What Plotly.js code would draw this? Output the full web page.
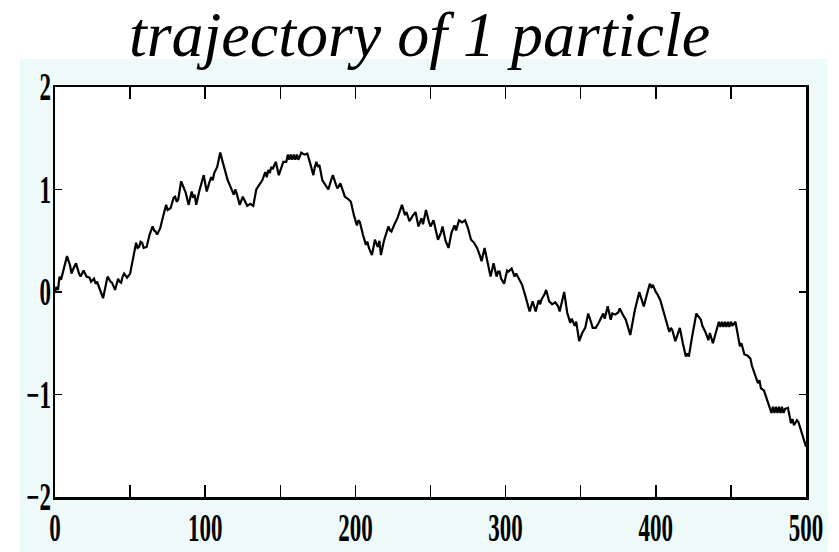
<!DOCTYPE html>
<html>
<head>
<meta charset="utf-8">
<script src="https://cdn.plot.ly/plotly-3.0.1.min.js"></script>
<style>
  html, body { margin: 0; padding: 0; background: #ffffff; }
  #chart { width: 839px; height: 552px; }
</style>
</head>
<body>
<div id="chart"></div>
<script>
// Position of a single particle against time step (random walk)
const steps = [
  0, 1, 2, 3, 4, 6, 8, 10, 11, 12, 14, 16, 17, 19, 21, 23, 24, 26, 27, 28,
  30, 32, 34, 35, 37, 38, 40, 42, 43, 44, 45, 46, 48, 50, 52, 54, 55, 56, 57, 58,
  59, 61, 63, 65, 66, 67, 68, 70, 72, 74, 75, 77, 79, 80, 81, 82, 84, 86, 87, 89,
  91, 92, 93, 94, 96, 99, 101, 103, 104, 105, 106, 108, 110, 112, 113, 115, 117, 119, 120, 121,
  123, 125, 126, 128, 130, 132, 134, 136, 138, 139, 140, 141, 142, 143, 144, 145, 147, 149, 151, 152,
  154, 155, 156, 157, 158, 159, 160, 161, 162, 163, 164, 166, 168, 170, 172, 173, 174, 175, 176, 178,
  180, 182, 184, 185, 187, 188, 190, 192, 193, 195, 197, 199, 201, 202, 203, 205, 207, 208, 209, 211,
  213, 214, 215, 216, 217, 219, 222, 223, 224, 226, 228, 231, 233, 234, 236, 238, 240, 242, 244, 245,
  247, 249, 250, 252, 254, 255, 257, 258, 260, 262, 264, 266, 267, 269, 271, 273, 275, 277, 279, 281,
  283, 284, 286, 288, 290, 292, 294, 295, 296, 297, 299, 301, 302, 304, 306, 307, 309, 311, 313, 315,
  316, 318, 320, 322, 323, 324, 326, 327, 329, 331, 333, 335, 336, 339, 341, 343, 344, 346, 347, 349,
  351, 353, 355, 357, 358, 360, 362, 365, 366, 368, 370, 371, 373, 375, 376, 378, 380, 383, 386, 389,
  391, 392, 394, 396, 397, 398, 400, 401, 403, 405, 407, 409, 410, 411, 413, 414, 416, 418, 420, 421,
  422, 424, 427, 429, 430, 431, 433, 435, 436, 438, 440, 442, 443, 444, 445, 446, 447, 448, 449, 450,
  451, 453, 455, 456, 457, 459, 461, 463, 464, 465, 467, 468, 469, 470, 472, 474, 477, 478, 479, 480,
  481, 482, 483, 484, 485, 486, 488, 490, 491, 492, 494, 495, 496, 498, 500
];

const position = [
  0.00, 0.05, 0.02, 0.15, 0.12, 0.25, 0.35, 0.26, 0.18, 0.22, 0.28, 0.18, 0.15, 0.21, 0.15, 0.14, 0.10, 0.13, 0.08, 0.10,
  0.02, -0.06, 0.08, 0.15, 0.10, 0.09, 0.02, 0.13, 0.10, 0.09, 0.15, 0.18, 0.14, 0.18, 0.33, 0.48, 0.43, 0.44, 0.49, 0.48,
  0.43, 0.44, 0.56, 0.64, 0.60, 0.59, 0.56, 0.62, 0.74, 0.85, 0.80, 0.82, 0.92, 0.93, 0.88, 0.90, 1.08, 1.00, 0.97, 0.85,
  0.98, 0.92, 0.95, 0.85, 0.98, 1.14, 0.98, 1.08, 1.12, 1.09, 1.16, 1.22, 1.36, 1.25, 1.19, 1.09, 1.02, 0.95, 1.00, 0.96,
  0.85, 0.93, 0.90, 0.84, 0.86, 0.84, 1.00, 1.05, 1.09, 1.13, 1.17, 1.12, 1.19, 1.16, 1.22, 1.20, 1.27, 1.14, 1.22, 1.27,
  1.27, 1.34, 1.29, 1.34, 1.29, 1.34, 1.29, 1.34, 1.29, 1.33, 1.36, 1.34, 1.35, 1.25, 1.14, 1.22, 1.27, 1.22, 1.24, 1.09,
  1.05, 1.00, 1.10, 1.14, 1.05, 1.01, 1.06, 0.96, 0.93, 0.91, 0.88, 0.75, 0.65, 0.70, 0.68, 0.56, 0.46, 0.49, 0.43, 0.36,
  0.51, 0.47, 0.44, 0.50, 0.36, 0.50, 0.64, 0.60, 0.59, 0.66, 0.72, 0.85, 0.75, 0.78, 0.69, 0.74, 0.78, 0.64, 0.72, 0.66,
  0.80, 0.68, 0.64, 0.70, 0.58, 0.51, 0.58, 0.64, 0.50, 0.43, 0.58, 0.65, 0.60, 0.70, 0.68, 0.70, 0.62, 0.51, 0.48, 0.43,
  0.35, 0.30, 0.43, 0.28, 0.15, 0.28, 0.15, 0.20, 0.20, 0.13, 0.08, 0.21, 0.20, 0.23, 0.15, 0.18, 0.12, 0.07, -0.03, -0.15,
  -0.19, -0.09, -0.19, -0.08, -0.12, -0.07, -0.02, 0.02, -0.09, -0.12, -0.10, -0.14, -0.19, 0.00, -0.20, -0.30, -0.26, -0.33, -0.29, -0.48,
  -0.40, -0.35, -0.21, -0.30, -0.35, -0.35, -0.30, -0.21, -0.26, -0.14, -0.27, -0.21, -0.22, -0.20, -0.16, -0.22, -0.27, -0.42, -0.18, 0.00,
  -0.10, -0.14, -0.03, 0.08, 0.05, 0.07, 0.00, -0.02, -0.08, -0.18, -0.30, -0.39, -0.35, -0.37, -0.48, -0.44, -0.35, -0.50, -0.63, -0.60,
  -0.63, -0.45, -0.21, -0.25, -0.27, -0.33, -0.39, -0.47, -0.40, -0.50, -0.38, -0.29, -0.34, -0.29, -0.34, -0.29, -0.34, -0.29, -0.34, -0.29,
  -0.33, -0.29, -0.45, -0.53, -0.50, -0.61, -0.62, -0.65, -0.72, -0.76, -0.83, -0.89, -0.86, -0.94, -0.96, -1.05, -1.18, -1.12, -1.18, -1.12,
  -1.18, -1.12, -1.18, -1.12, -1.18, -1.14, -1.13, -1.28, -1.24, -1.30, -1.25, -1.27, -1.32, -1.42, -1.51
];

const xTickVals = [0, 50, 100, 150, 200, 250, 300, 350, 400, 450, 500];
const xTickText = ['0', '', '100', '', '200', '', '300', '', '400', '', '500'];
const yTickVals = [-2, -1, 0, 1, 2];
const yTickText = ['\u22122', '\u22121', '0', '1', '2'];

const trace = {
  x: steps,
  y: position,
  type: 'scatter',
  mode: 'lines',
  line: { color: '#000000', width: 2.2 },
  hoverinfo: 'x+y'
};

const tickFont = { family: '"Liberation Serif", "Times New Roman", serif', size: 23, weight: 'bold', color: '#000000' };

const layout = {
  width: 839,
  height: 552,
  margin: { l: 55, r: 33, t: 87, b: 55 },
  paper_bgcolor: '#ffffff',
  plot_bgcolor: 'rgba(0,0,0,0)',
  showlegend: false,
  title: {
    text: 'trajectory of 1 particle',
    font: { family: '"Liberation Serif", "Times New Roman", serif', size: 64, style: 'italic', color: '#000000' },
    x: 0.5,
    xref: 'container',
    xanchor: 'center',
    y: 0.9384,
    yref: 'container',
    yanchor: 'middle'
  },
  xaxis: {
    range: [0, 500],
    tickmode: 'array',
    tickvals: xTickVals,
    ticktext: xTickText,
    ticks: 'inside',
    ticklen: 12,
    tickwidth: 1.5,
    tickcolor: '#000000',
    showline: true,
    linecolor: '#000000',
    linewidth: 2.5,
    mirror: 'ticks',
    showgrid: false,
    zeroline: false,
    tickfont: tickFont,
    ticklabelstandoff: 9
  },
  yaxis: {
    range: [-2, 2],
    tickmode: 'array',
    tickvals: yTickVals,
    ticktext: yTickText,
    ticks: 'inside',
    ticklen: 7,
    tickwidth: 1.5,
    tickcolor: '#000000',
    showline: true,
    linecolor: '#000000',
    linewidth: 2.5,
    mirror: 'ticks',
    showgrid: false,
    zeroline: false,
    tickfont: tickFont,
    ticklabelstandoff: -3
  },
  shapes: [
    {
      // pale cyan backdrop around the axes box
      type: 'rect', xref: 'paper', yref: 'paper', layer: 'below',
      x0: -0.0466, x1: 1.029, y0: -0.14, y1: 1.068,
      line: { width: 0 }, fillcolor: '#eef9f9'
    },
    {
      type: 'rect', xref: 'paper', yref: 'paper', layer: 'below',
      x0: 0, x1: 1, y0: 0, y1: 1,
      line: { width: 0 }, fillcolor: '#ffffff'
    }
  ]
};

// Tick numerals are set tall and narrow: stretch each label vertically about its own centre
function stretchTickLabels(gd) {
  gd.querySelectorAll('.xtick text, .ytick text').forEach(function (t) {
    if (!t.textContent) return;
    const b = t.getBBox();
    const cx = b.x + b.width / 2;
    const cy = b.y + b.height / 2;
    const prev = t.getAttribute('transform') || '';
    t.setAttribute('transform', prev + ' translate(' + cx + ',' + cy + ') scale(1,1.7) translate(' + (-cx) + ',' + (-cy) + ')');
  });
}

Plotly.newPlot('chart', [trace], layout, { displayModeBar: false, staticPlot: true })
  .then(stretchTickLabels);
</script>
</body>
</html>
